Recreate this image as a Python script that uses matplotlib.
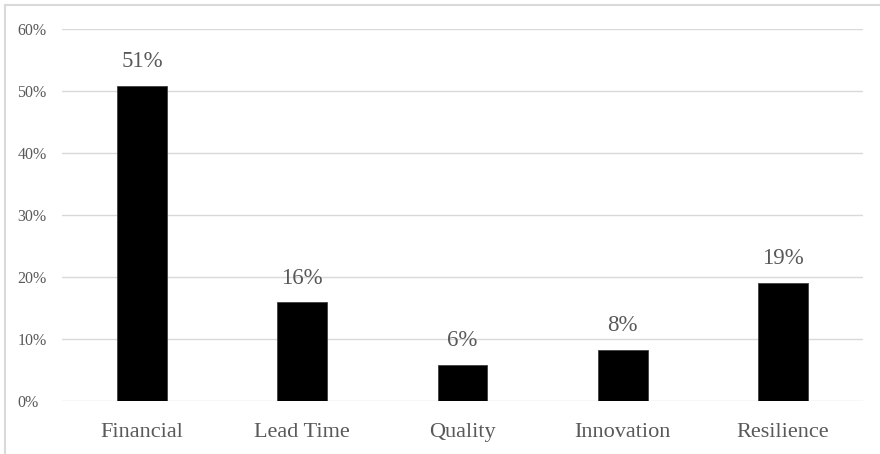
import matplotlib
matplotlib.use('Agg')
import matplotlib.pyplot as plt
from matplotlib.patches import Rectangle

# data
categories = ['Financial', 'Lead Time', 'Quality', 'Innovation', 'Resilience']
values = [50.8, 15.9, 5.8, 8.3, 19.1]
labels = ['51%', '16%', '6%', '8%', '19%']
yticks = [0, 10, 20, 30, 40, 50, 60]

plt.rcParams['font.family'] = ['Liberation Serif', 'DejaVu Serif']
txt = '#595959'
grid = '#d9d9d9'

fig = plt.figure(figsize=(8.8, 4.54), dpi=100)
ax = fig.add_axes([62/880, 1 - 401/454, (863 - 62)/880, (401 - 29)/454])

x = range(len(categories))
ax.bar(x, values, width=0.31, color='black', edgecolor='#404040', linewidth=0.6, zorder=3)
for i, (v, lab) in enumerate(zip(values, labels)):
    ax.text(i, v + 2.2, lab, ha='center', va='bottom', fontsize=16.5, color=txt)

ax.set_xlim(-0.5, len(categories) - 0.5)
ax.set_ylim(0, 60)
ax.set_yticks(yticks)
ax.set_yticklabels([f'{t}%' for t in yticks], fontsize=11.5, color=txt)
ax.set_xticks(list(x))
ax.set_xticklabels(categories, fontsize=16, color=txt)
ax.tick_params(axis='both', length=0)
ax.tick_params(axis='x', pad=16)
ax.tick_params(axis='y', pad=32)
for lab in ax.get_yticklabels():
    lab.set_horizontalalignment('left')

ax.grid(axis='y', color=grid, linewidth=1, zorder=0)
for s in ax.spines.values():
    s.set_visible(False)

# light frame round the chart
fig.patches.append(Rectangle((5/880, -0.1), 1.2, 1.1 - 5/454, transform=fig.transFigure,
                             fill=False, edgecolor=grid, linewidth=1.5))

fig.savefig('out.png', dpi=100)
